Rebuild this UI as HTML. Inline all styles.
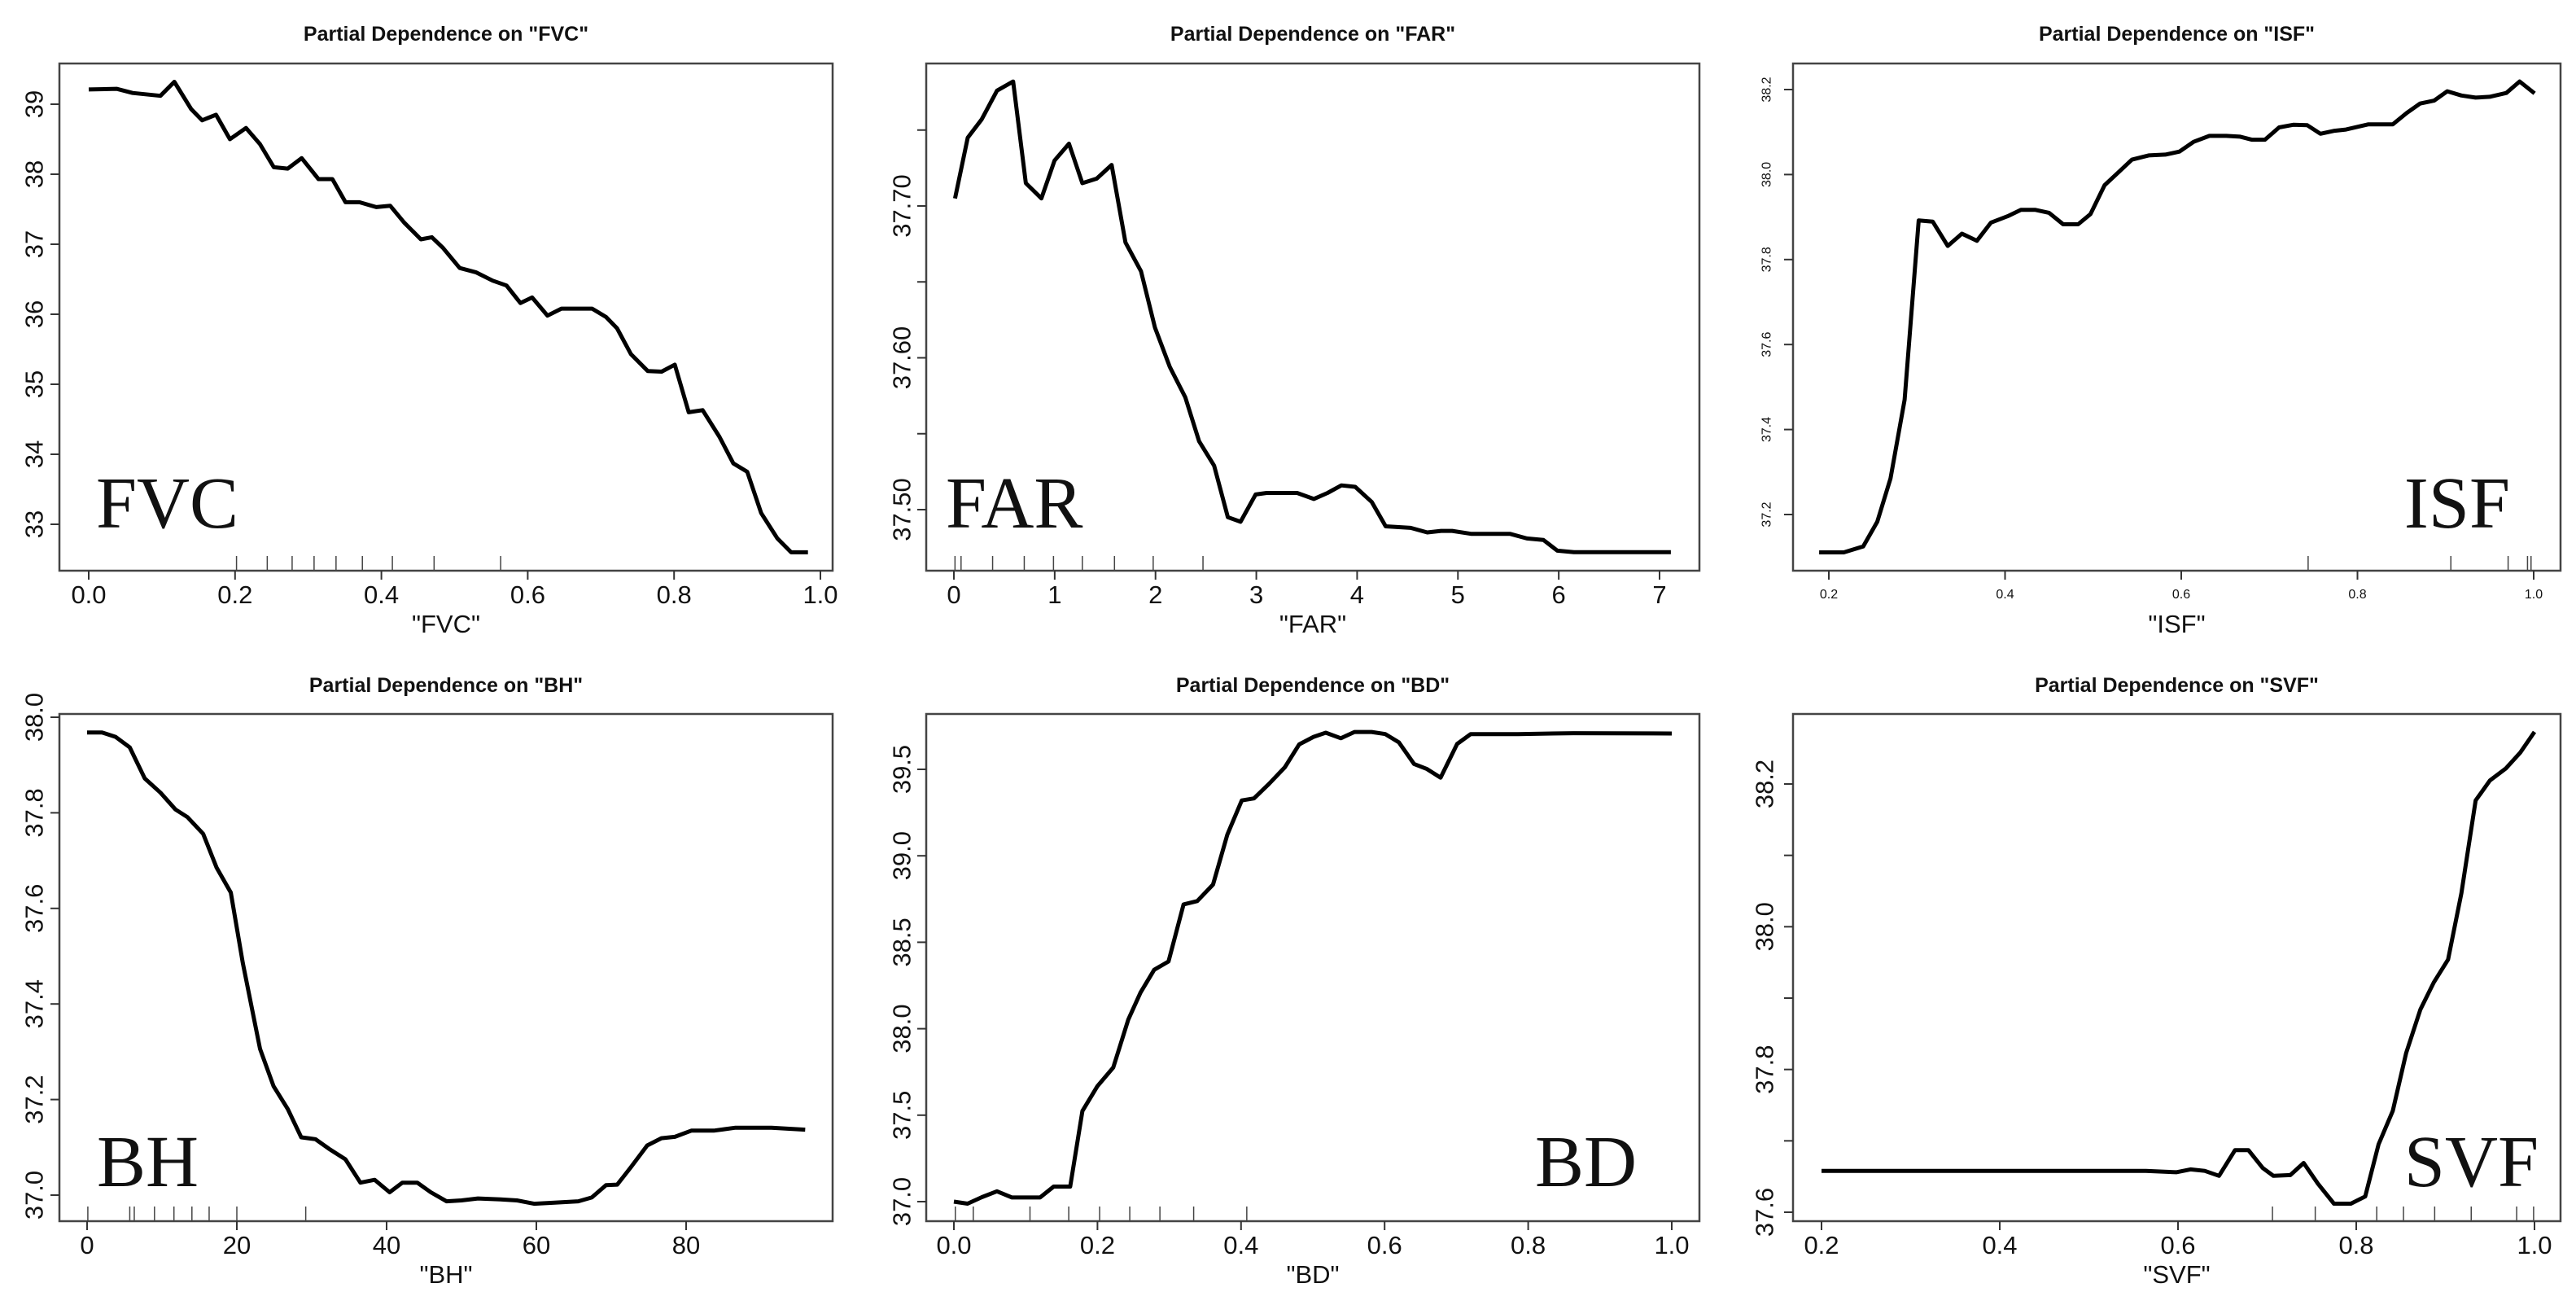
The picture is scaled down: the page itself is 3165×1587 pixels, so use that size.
<!DOCTYPE html>
<html><head><meta charset="utf-8"><style>
html,body{margin:0;padding:0;background:#fff}
svg{display:block}
text{font-family:"Liberation Sans",Arial,sans-serif;fill:#111}
.ttl{font-weight:bold;font-size:25px}
.big{font-family:"Liberation Serif","Times New Roman",serif;font-size:90px}
</style></head><body>
<svg id="chart" width="3165" height="1587" viewBox="0 0 3165 1587" xmlns="http://www.w3.org/2000/svg"></svg>
<script>
// ---- FVC ----
const fvcX=[0,0.038,0.060,0.098,0.117,0.140,0.155,0.174,0.193,0.215,0.234,0.253,0.272,0.291,0.314,0.333,0.351,0.370,0.393,0.412,0.431,0.454,0.469,0.484,0.507,0.529,0.552,0.571,0.590,0.606,0.627,0.646,0.688,0.707,0.722,0.741,0.764,0.783,0.801,0.820,0.839,0.862,0.881,0.900,0.919,0.941,0.960,0.983];
const fvcY=[39.21,39.22,39.16,39.12,39.32,38.93,38.77,38.85,38.50,38.66,38.43,38.10,38.08,38.23,37.93,37.93,37.60,37.60,37.53,37.55,37.31,37.07,37.10,36.95,36.66,36.60,36.48,36.41,36.16,36.24,35.98,36.08,36.08,35.96,35.80,35.43,35.19,35.18,35.28,34.60,34.63,34.25,33.87,33.75,33.16,32.80,32.60,32.60];
const fvcRug=[0.202,0.244,0.278,0.308,0.338,0.374,0.415,0.472,0.563];
const fvcXTicks=["0.0","0.2","0.4","0.6","0.8","1.0"];
const fvcYTicks=["33","34","35","36","37","38","39"];
// ---- FAR ----
const farX=[0.011,0.137,0.275,0.428,0.588,0.714,0.868,0.999,1.142,1.274,1.417,1.565,1.702,1.856,1.994,2.142,2.295,2.433,2.581,2.718,2.844,2.993,3.103,3.405,3.570,3.707,3.844,3.981,4.146,4.283,4.531,4.696,4.833,4.943,5.135,5.519,5.684,5.849,5.986,6.151,7.112];
const farY=[37.705,37.745,37.757,37.776,37.782,37.715,37.705,37.730,37.741,37.715,37.718,37.727,37.676,37.657,37.620,37.594,37.574,37.545,37.529,37.495,37.492,37.510,37.511,37.511,37.507,37.511,37.516,37.515,37.505,37.489,37.488,37.485,37.486,37.486,37.484,37.484,37.481,37.480,37.473,37.472,37.472];
const farRug=[0.011,0.071,0.384,0.698,0.988,1.274,1.593,1.977,2.471];
const farXTicks=["0","1","2","3","4","5","6","7"];
const farYTicks=["37.50","37.55","37.60","37.65","37.70","37.75"];
const farYLabels=["37.50","","37.60","","37.70",""];
// ---- ISF ----
const isfX=[0.189,0.217,0.239,0.255,0.270,0.286,0.302,0.318,0.335,0.351,0.368,0.384,0.403,0.418,0.434,0.450,0.466,0.483,0.497,0.513,0.528,0.544,0.563,0.582,0.598,0.614,0.632,0.651,0.667,0.680,0.695,0.711,0.727,0.743,0.758,0.774,0.787,0.812,0.840,0.856,0.871,0.887,0.902,0.918,0.934,0.950,0.969,0.984,1.001];
const isfY=[37.111,37.111,37.125,37.183,37.285,37.470,37.892,37.889,37.832,37.861,37.844,37.887,37.902,37.917,37.917,37.910,37.883,37.883,37.907,37.975,38.004,38.035,38.045,38.047,38.054,38.077,38.091,38.091,38.089,38.082,38.082,38.111,38.117,38.116,38.096,38.103,38.106,38.118,38.118,38.145,38.167,38.174,38.196,38.186,38.181,38.183,38.192,38.219,38.191];
const isfRug=[0.744,0.906,0.971,0.993,0.997];
const isfXTicks=["0.2","0.4","0.6","0.8","1.0"];
const isfYTicks=["37.2","37.4","37.6","37.8","38.0","38.2"];
// ---- BH ----
const bhX=[0,2.0,3.8,5.7,7.7,9.8,11.8,13.4,15.5,17.3,19.2,20.8,23.1,24.9,26.8,28.6,30.5,32.3,34.5,36.5,38.4,40.4,42.1,44.1,45.9,48.0,50.0,52.2,55.2,57.4,59.7,62.2,65.6,67.4,69.3,70.8,72.6,74.8,76.7,78.5,80.7,83.7,86.6,91.4,95.9];
const bhY=[37.968,37.968,37.959,37.937,37.872,37.842,37.807,37.791,37.756,37.685,37.633,37.485,37.306,37.228,37.180,37.121,37.117,37.097,37.075,37.026,37.032,37.006,37.026,37.026,37.006,36.987,36.989,36.993,36.991,36.989,36.982,36.984,36.987,36.995,37.021,37.022,37.058,37.104,37.119,37.122,37.135,37.135,37.141,37.141,37.137];
const bhRug=[0.1,5.7,6.3,9.0,11.6,14.0,16.3,20.0,29.2];
const bhXTicks=["0","20","40","60","80"];
const bhYTicks=["37.0","37.2","37.4","37.6","37.8","38.0"];
// ---- BD ----
const bdX=[0,0.019,0.039,0.060,0.081,0.120,0.139,0.162,0.179,0.200,0.222,0.243,0.260,0.279,0.299,0.320,0.339,0.361,0.381,0.401,0.418,0.439,0.461,0.481,0.501,0.518,0.539,0.558,0.582,0.601,0.620,0.641,0.659,0.678,0.701,0.720,0.786,0.863,1.0];
const bdY=[37.000,36.988,37.026,37.060,37.024,37.024,37.087,37.087,37.524,37.668,37.776,38.053,38.209,38.341,38.389,38.719,38.738,38.834,39.123,39.320,39.332,39.416,39.512,39.644,39.688,39.712,39.680,39.716,39.716,39.704,39.656,39.531,39.502,39.452,39.647,39.704,39.704,39.709,39.707];
const bdRug=[0.002,0.027,0.106,0.160,0.203,0.245,0.287,0.334,0.408];
const bdXTicks=["0.0","0.2","0.4","0.6","0.8","1.0"];
const bdYTicks=["37.0","37.5","38.0","38.5","39.0","39.5"];
// ---- SVF ----
const svfX=[0.2,0.564,0.598,0.614,0.630,0.646,0.664,0.679,0.695,0.707,0.726,0.741,0.757,0.775,0.794,0.810,0.825,0.841,0.856,0.872,0.887,0.903,0.918,0.934,0.950,0.968,0.984,1.0];
const svfY=[37.658,37.658,37.656,37.660,37.658,37.651,37.687,37.687,37.662,37.651,37.652,37.669,37.640,37.612,37.612,37.622,37.695,37.742,37.823,37.884,37.922,37.954,38.047,38.177,38.205,38.222,38.244,38.273];
const svfRug=[0.706,0.754,0.823,0.853,0.888,0.929,0.980,0.999];
const svfXTicks=["0.2","0.4","0.6","0.8","1.0"];
const svfYTicks=["37.6","37.7","37.8","37.9","38.0","38.1","38.2"];
const svfYLabels=["37.6","","37.8","","38.0","","38.2"];

const NS="http://www.w3.org/2000/svg";
const svg=document.getElementById('chart');
function mk(tag,attrs,parent,txt){const e=document.createElementNS(NS,tag);for(const k in attrs)e.setAttribute(k,attrs[k]);if(txt!==undefined)e.textContent=txt;parent.appendChild(e);return e;}

function panel(cfg){
  const g=mk('g',{},svg);
  
  
  const sx=v=>cfg.px0+(v-cfg.x0)*(cfg.px1-cfg.px0)/(cfg.x1-cfg.x0);
  const sy=v=>cfg.py0+(v-cfg.y0)*(cfg.py1-cfg.py0)/(cfg.y1-cfg.y0);
  const cx=(cfg.L+cfg.R)/2;
  const t=mk('text',{x:cx,y:cfg.titleY,'text-anchor':'middle','class':'ttl'},g,'Partial Dependence on "'+cfg.name+'"');
  
  
  const fr=mk('rect',{x:cfg.L,y:cfg.T,width:cfg.R-cfg.L,height:cfg.B-cfg.T,fill:'none',stroke:'#444','stroke-width':2.5},g);
  
  
  const xa=mk('g',{},g);
  
  
  cfg.xt.forEach(s=>{const v=parseFloat(s);const x=sx(v);
    mk('line',{x1:x,x2:x,y1:cfg.B,y2:cfg.B+11,stroke:'#333','stroke-width':2},xa);
    mk('text',{x:x,y:cfg.B+cfg.tickOff,'text-anchor':'middle','font-size':cfg.fs},xa,s);});
  const xl=mk('text',{x:cx,y:cfg.B+cfg.labOff,'text-anchor':'middle','font-size':31},g,'"'+cfg.name+'"');
  
  
  const ya=mk('g',{},g);
  
  
  cfg.yt.forEach((s,i)=>{const v=parseFloat(s);const y=sy(v);
    mk('line',{x1:cfg.L-11,x2:cfg.L,y1:y,y2:y,stroke:'#333','stroke-width':2},ya);
    const lab=cfg.yl?cfg.yl[i]:s;
    if(lab) mk('text',{x:cfg.ylx,y:y,'text-anchor':'middle','font-size':cfg.fs,transform:'rotate(-90 '+cfg.ylx+' '+y+')','dominant-baseline':'central'},ya,lab);});
  const rg=mk('g',{},g);
  
  
  cfg.rug.forEach(v=>{const x=sx(v);mk('line',{x1:x,x2:x,y1:cfg.B,y2:cfg.B-18,stroke:'#444','stroke-width':1.5},rg);});
  const d=cfg.xs.map((v,i)=>(i?'L':'M')+sx(v).toFixed(1)+' '+sy(cfg.ys[i]).toFixed(1)).join(' ');
  const p=mk('path',{d:d,fill:'none',stroke:'#000','stroke-width':5,'stroke-linejoin':'round'},g);
  
  
  const bl=mk('text',{x:cfg.bx,y:cfg.by,'class':'big','text-anchor':cfg.anchor},g,cfg.name);
  
  
}

const topRow={T:78,B:701,titleY:50,tickOff:40,labOff:76};
const botRow={T:877,B:1500,titleY:850,tickOff:40,labOff:76};
panel(Object.assign({id:'fvc',name:'FVC',L:73,R:1023,x0:0,x1:1,px0:109,px1:1008,y0:33,y1:39,py0:644,py1:128,xs:fvcX,ys:fvcY,rug:fvcRug,xt:fvcXTicks,yt:fvcYTicks,ylx:42,fs:31,bx:118,by:648,anchor:'start'},topRow));
panel(Object.assign({id:'far',name:'FAR',L:1138,R:2088,x0:0,x1:7,px0:1172,px1:2039,y0:37.5,y1:37.7,py0:626,py1:253,xs:farX,ys:farY,rug:farRug,xt:farXTicks,yt:farYTicks,yl:farYLabels,ylx:1108,fs:31,bx:1162,by:648,anchor:'start'},topRow));
panel(Object.assign({id:'isf',name:'ISF',L:2203,R:3146,x0:0.2,x1:1,px0:2247,px1:3113,y0:37.2,y1:38.2,py0:632,py1:110,xs:isfX,ys:isfY,rug:isfRug,xt:isfXTicks,yt:isfYTicks,ylx:2171,fs:16,bx:3084,by:648,anchor:'end'},topRow,{tickOff:34}));
panel(Object.assign({id:'bh',name:'BH',L:73,R:1023,x0:0,x1:80,px0:107,px1:843,y0:37,y1:38,py0:1468,py1:881,xs:bhX,ys:bhY,rug:bhRug,xt:bhXTicks,yt:bhYTicks,ylx:42,fs:31,bx:119,by:1457,anchor:'start'},botRow));
panel(Object.assign({id:'bd',name:'BD',L:1138,R:2088,x0:0,x1:1,px0:1172,px1:2054,y0:37,y1:39.5,py0:1476,py1:945,xs:bdX,ys:bdY,rug:bdRug,xt:bdXTicks,yt:bdYTicks,ylx:1108,fs:31,bx:2011,by:1457,anchor:'end'},botRow));
panel(Object.assign({id:'svf',name:'SVF',L:2203,R:3146,x0:0.2,x1:1,px0:2238,px1:3114,y0:37.6,y1:38.2,py0:1489,py1:963,xs:svfX,ys:svfY,rug:svfRug,xt:svfXTicks,yt:svfYTicks,yl:svfYLabels,ylx:2168,fs:31,bx:3119,by:1457,anchor:'end'},botRow));
</script>
</body></html>
